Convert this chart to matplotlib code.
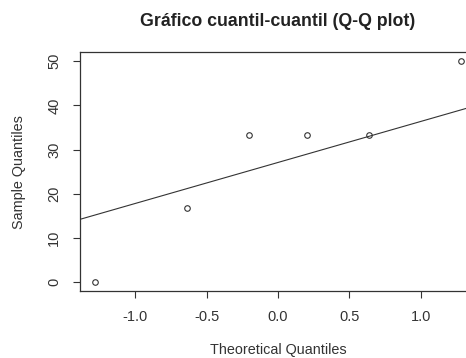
import matplotlib
matplotlib.use("Agg")
import matplotlib.pyplot as plt

# --- data ---
theoretical_q = [-1.28, -0.64, -0.20, 0.20, 0.64, 1.28]
sample_q = [0.0, 16.7, 33.3, 33.3, 33.3, 50.0]
# reference line (qqline): intercept and slope
line_intercept = 27.08
line_slope = 9.27

x_ticks = [-1.0, -0.5, 0.0, 0.5, 1.0]
y_ticks = [0, 10, 20, 30, 40, 50]

plt.rcParams['font.family'] = ['Liberation Sans', 'DejaVu Sans']
text_color = '#333333'

fig = plt.figure(figsize=(4.66, 3.58), dpi=100)
ax = fig.add_axes([80 / 466, 1 - 291 / 358, 396 / 466, (291 - 52.3) / 358])

ax.plot(theoretical_q, sample_q, linestyle='none', marker='o', markersize=4,
        markerfacecolor='none', markeredgecolor='#333333', markeredgewidth=0.8)
ax.axline((0, line_intercept), slope=line_slope, color='#333333', lw=0.8)

ax.set_xlim(-1.388, 1.388)
ax.set_ylim(-2.0, 52.0)
ax.set_xticks(x_ticks)
ax.set_xticklabels([f'{v:.1f}' for v in x_ticks])
ax.set_yticks(y_ticks)
ax.set_yticklabels([str(v) for v in y_ticks], rotation=90, va='center')

ax.tick_params(axis='both', direction='out', length=5, width=0.8,
               colors='#333333', labelsize=10.5, labelcolor=text_color)
ax.tick_params(axis='x', pad=8.5)
ax.tick_params(axis='y', pad=8.5)
for s in ax.spines.values():
    s.set_linewidth(0.9)
    s.set_color('#333333')

ax.set_xlabel('Theoretical Quantiles', fontsize=10.4, color=text_color, labelpad=14)
ax.set_ylabel('Sample Quantiles', fontsize=10.4, color=text_color, labelpad=15)

fig.text(278 / 466, 1 - 21 / 358, 'Gráfico cuantil-cuantil (Q-Q plot)',
         ha='center', va='center', fontsize=12.8, fontweight='bold', color='#222222')

fig.savefig('out.png', dpi=100)
